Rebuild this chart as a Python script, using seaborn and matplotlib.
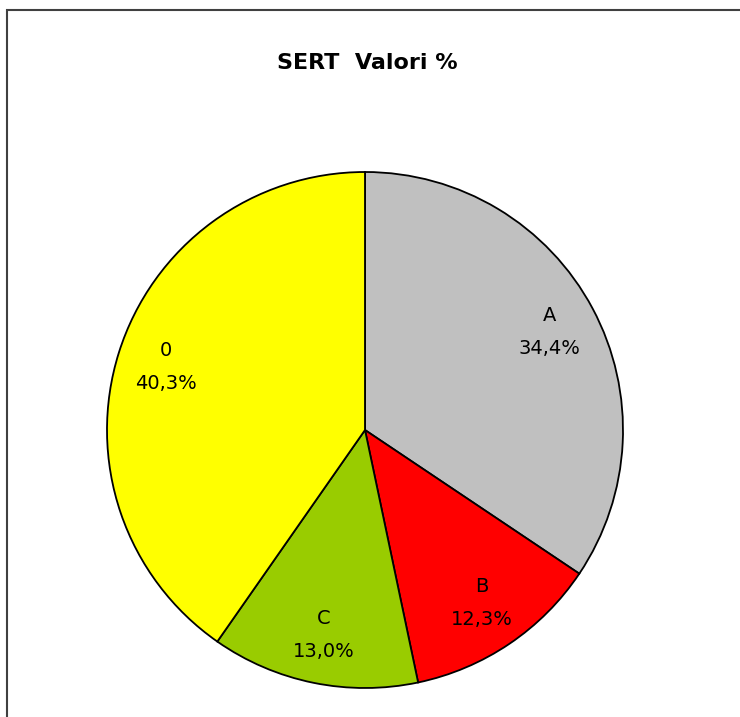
import matplotlib
matplotlib.use("Agg")
import matplotlib.pyplot as plt
import seaborn as sns
from matplotlib.patches import Rectangle

# dati del grafico
categorie = ["A", "B", "C", "0"]
valori = [34.4, 12.3, 13.0, 40.3]
colori = ["#C0C0C0", "#FF0000", "#99CC00", "#FFFF00"]
titolo = "SERT  Valori %"

sns.set_theme(style="white")
plt.rcParams['font.family'] = ['DejaVu Sans']

fig = plt.figure(figsize=(7.4, 7.17), dpi=100)
W, H = 740, 717

# cornice del grafico (tagliata a destra e in basso)
fig.patches.append(Rectangle((7 / W, -0.1), 1.2, 1 - 10 / H + 0.1,
                             transform=fig.transFigure, fill=False,
                             edgecolor="#404040", linewidth=1.5))

# assi della torta: centro (365, 430), raggio 258 px
cx, cy, r = 365, 430, 258
ax = fig.add_axes([(cx - r) / W, (H - cy - r) / H, 2 * r / W, 2 * r / H])

etichette = [f"{c}\n{v:.1f}%".replace(".", ",") for c, v in zip(categorie, valori)]
wedges, testi = ax.pie(valori, labels=etichette, colors=colori, startangle=90,
                       counterclock=False, labeldistance=0.81,
                       wedgeprops=dict(edgecolor="black", linewidth=1.3))
for t in testi:
    t.set_ha("center")
    t.set_va("center")
    t.set_fontsize(14)
    t.set_linespacing(1.95)
    t.set_color("black")
ax.set_xlim(-1.0, 1.0)
ax.set_ylim(-1.0, 1.0)
ax.set_aspect("equal")
ax.axis("off")

fig.text(367 / W, 1 - 63 / H, titolo, ha="center", va="center",
         fontsize=16, fontweight="bold", color="black")

fig.savefig("out.png", dpi=100)
